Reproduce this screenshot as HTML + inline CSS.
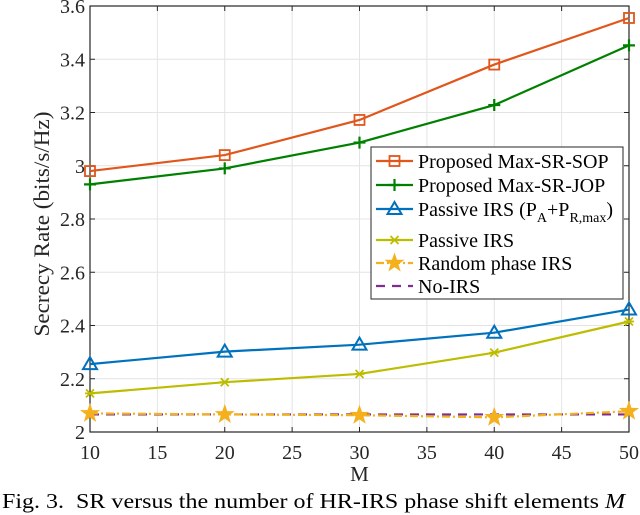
<!DOCTYPE html>
<html><head><meta charset="utf-8"><style>
body{margin:0;background:#fff;}
svg{display:block;font-family:"Liberation Serif",serif;}
</style></head><body>
<svg id="c" width="640" height="515" xmlns="http://www.w3.org/2000/svg"></svg>
<script>
const categories=[10,20,30,40,50];
const sop=[2.98,3.04,3.172,3.38,3.555];
const jop=[2.93,2.99,3.087,3.228,3.452];
const passivePA=[2.255,2.302,2.328,2.373,2.46];
const passive=[2.145,2.187,2.218,2.298,2.415];
const randomPhase=[2.07,2.066,2.063,2.055,2.078];
const noIRS=[2.066,2.066,2.066,2.066,2.066];
const xTicks=[10,15,20,25,30,35,40,45,50];
const yTicks=[2,2.2,2.4,2.6,2.8,3,3.2,3.4,3.6];
const yTickLabels=["2","2.2","2.4","2.6","2.8","3","3.2","3.4","3.6"];

const L=90,R=629,T=6,B=432;
const xs=v=>L+(v-10)/40*(R-L);
const ys=v=>B-(v-2)/1.6*(B-T);
const svg=document.getElementById('c');
const NS='http://www.w3.org/2000/svg';
function mk(tag,attrs,parent){const e=document.createElementNS(NS,tag);for(const k in attrs)e.setAttribute(k,attrs[k]);(parent||svg).appendChild(e);return e;}

const grid=mk('g',{});


xTicks.forEach(t=>{mk('line',{x1:xs(t),x2:xs(t),y1:T,y2:B,stroke:'#e4e4e4','stroke-width':1},grid);});
yTicks.forEach(t=>{mk('line',{x1:L,x2:R,y1:ys(t),y2:ys(t),stroke:'#e4e4e4','stroke-width':1},grid);});
const box=mk('rect',{x:L,y:T,width:R-L,height:B-T,fill:'none',stroke:'#262626','stroke-width':1.2});


const xt=mk('g',{});


xTicks.forEach(t=>{
 mk('line',{x1:xs(t),x2:xs(t),y1:B,y2:B-5,stroke:'#262626'},xt);
 mk('line',{x1:xs(t),x2:xs(t),y1:T,y2:T+5,stroke:'#262626'},xt);
 const tx=mk('text',{x:xs(t),y:459,'font-size':20,'text-anchor':'middle',fill:'#262626'},xt);tx.textContent=t;
});
const yt=mk('g',{});


yTicks.forEach((t,i)=>{
 mk('line',{x1:L,x2:L+5,y1:ys(t),y2:ys(t),stroke:'#262626'},yt);
 mk('line',{x1:R,x2:R-5,y1:ys(t),y2:ys(t),stroke:'#262626'},yt);
 const tx=mk('text',{x:L-5,y:ys(t)+7,'font-size':20,'text-anchor':'end',fill:'#262626'},yt);tx.textContent=yTickLabels[i];
});
const xl=mk('text',{x:(L+R)/2,y:481,'font-size':21,'text-anchor':'middle',fill:'#262626'});
xl.textContent='M';


const yl=mk('text',{x:0,y:0,'font-size':22,'text-anchor':'middle',fill:'#262626',textLength:225,lengthAdjust:'spacingAndGlyphs',transform:'translate(49,224) rotate(-90)'});
yl.textContent='Secrecy Rate (bits/s/Hz)';



function marker(g,type,x,y,color){
 if(type==='sq')mk('rect',{x:x-5,y:y-5,width:10,height:10,fill:'none',stroke:color,'stroke-width':1.8},g);
 else if(type==='plus'){mk('path',{d:`M${x-6} ${y}H${x+6}M${x} ${y-6}V${y+6}`,stroke:color,'stroke-width':2.2},g);}
 else if(type==='tri')mk('path',{d:`M${x} ${y-7}L${x+7} ${y+5}L${x-7} ${y+5}Z`,fill:'none',stroke:color,'stroke-width':2},g);
 else if(type==='x')mk('path',{d:`M${x-4} ${y-4}L${x+4} ${y+4}M${x+4} ${y-4}L${x-4} ${y+4}M${x-5} ${y}H${x+5}`,stroke:color,'stroke-width':1.8},g);
 else if(type==='star'){let p='';for(let i=0;i<10;i++){const r=i%2?3.6:9,a=-Math.PI/2+i*Math.PI/5;p+=(i?'L':'M')+(x+r*Math.cos(a)).toFixed(1)+' '+(y+r*Math.sin(a)).toFixed(1);}mk('path',{d:p+'Z',fill:color,stroke:color,'stroke-width':1},g);}
}
const series=[
 {name:'series-no-irs',data:noIRS,color:'#7e2f8e',dash:'9,7',m:null},
 {name:'series-random-phase-irs',data:randomPhase,color:'#f5b01e',dash:'8,3,2,3',m:'star'},
 {name:'series-passive-irs',data:passive,color:'#bdbd00',dash:null,m:'x'},
 {name:'series-passive-irs-pa-pr',data:passivePA,color:'#0072bd',dash:null,m:'tri'},
 {name:'series-max-sr-jop',data:jop,color:'#008000',dash:null,m:'plus'},
 {name:'series-max-sr-sop',data:sop,color:'#e0561b',dash:null,m:'sq'}
];
series.forEach(s=>{
 const g=mk('g',{});
 
 
 const pts=s.data.map((v,i)=>xs(categories[i])+','+ys(v)).join(' ');
 const a={points:pts,fill:'none',stroke:s.color,'stroke-width':2.2};
 if(s.dash)a['stroke-dasharray']=s.dash;
 mk('polyline',a,g);
 if(s.m)s.data.forEach((v,i)=>marker(g,s.m,xs(categories[i]),ys(v),s.color));
});
const lg=mk('g',{});


mk('rect',{x:371,y:147,width:252,height:152,fill:'#fff',stroke:'#262626','stroke-width':1},lg);
const leg=[
 {c:'#e0561b',m:'sq',y:161,d:null,t:'Proposed Max-SR-SOP'},
 {c:'#008000',m:'plus',y:185,d:null,t:'Proposed Max-SR-JOP'},
 {c:'#0072bd',m:'tri',y:209,d:null,t:'PASSIVE'},
 {c:'#bdbd00',m:'x',y:240,d:null,t:'Passive IRS'},
 {c:'#f5b01e',m:'star',y:263,d:'8,3,2,3',t:'Random phase IRS'},
 {c:'#7e2f8e',m:null,y:286,d:'9,7',t:'No-IRS'}
];
leg.forEach(e=>{
 const g=mk('g',{},lg);
 
 
 const a={x1:376,x2:413,y1:e.y,y2:e.y,stroke:e.c,'stroke-width':2.2};if(e.d)a['stroke-dasharray']=e.d;
 mk('line',a,g);
 if(e.m)marker(g,e.m,394.5,e.y,e.c);
 const tx=mk('text',{x:418,y:e.y+7,'font-size':20,fill:'#000'},g);
 if(e.t==='PASSIVE'){tx.innerHTML='Passive IRS (P<tspan dy="6" font-size="14">A</tspan><tspan dy="-6">+P</tspan><tspan dy="6" font-size="14">R,max</tspan><tspan dy="-6">)</tspan>';}
 else tx.textContent=e.t;
});
const cap=mk('text',{x:2,y:508,'font-size':21,fill:'#000',textLength:623,lengthAdjust:'spacingAndGlyphs'});
cap.innerHTML='Fig. 3.&#160;&#160;SR versus the number of HR-IRS phase shift elements <tspan font-style="italic">M</tspan>';


</script>
</body></html>
